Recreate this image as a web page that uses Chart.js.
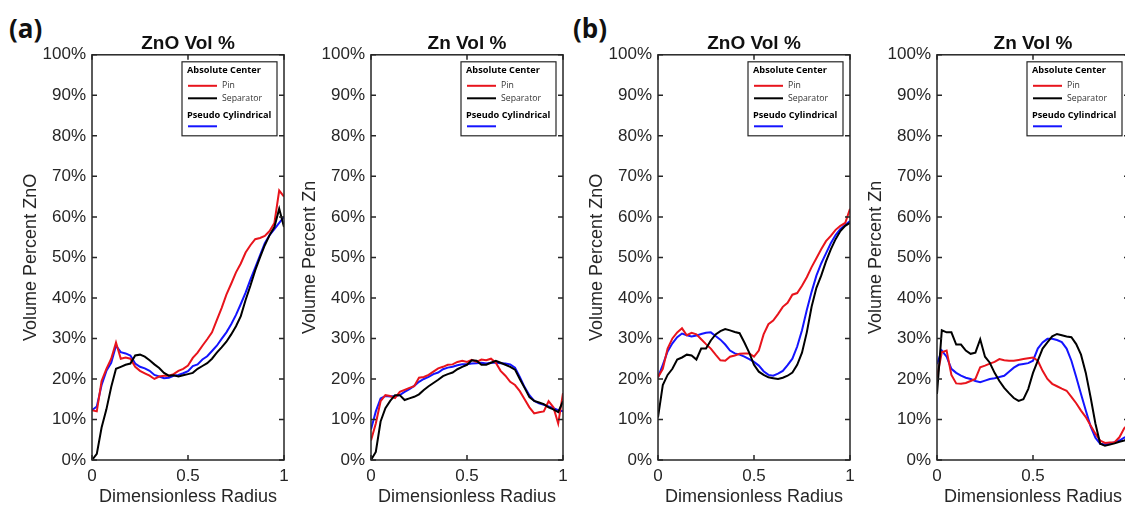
<!DOCTYPE html>
<html>
<head>
<meta charset="utf-8">
<script src="https://cdn.jsdelivr.net/npm/chart.js@4.4.0/dist/chart.umd.min.js"></script>
<style>
  html, body { margin: 0; padding: 0; background: #fff; }
  body { width: 1125px; height: 508px; overflow: hidden; position: relative; }
  canvas.panel { position: absolute; top: 0; }
  .tag { position: absolute; top: 15px; font: bold 26px "Open Sans", sans-serif; line-height: 1; color: #111; }
</style>
</head>
<body>
<div class="tag" style="left:9px">(a)</div>
<div class="tag" style="left:573px">(b)</div>
<canvas id="p0" class="panel" width="300" height="508" style="left:0px"></canvas>
<canvas id="p1" class="panel" width="300" height="508" style="left:279px"></canvas>
<canvas id="p2" class="panel" width="300" height="508" style="left:566px"></canvas>
<canvas id="p3" class="panel" width="300" height="508" style="left:845px"></canvas>
<script>
// dimensionless radius, shared by all four panels
const radius = [0, 0.025, 0.05, 0.075, 0.1, 0.125, 0.15, 0.175, 0.2, 0.225,
  0.25, 0.275, 0.3, 0.325, 0.35, 0.375, 0.4, 0.425, 0.45, 0.475,
  0.5, 0.525, 0.55, 0.575, 0.6, 0.625, 0.65, 0.675, 0.7, 0.725,
  0.75, 0.775, 0.8, 0.825, 0.85, 0.875, 0.9, 0.925, 0.95, 0.975, 1];

const xTicks = [0, 0.5, 1];
const yTicks = [0, 10, 20, 30, 40, 50, 60, 70, 80, 90, 100];
const panelTitles = ['ZnO Vol %', 'Zn Vol %', 'ZnO Vol %', 'Zn Vol %'];
const yTitles = ['Volume Percent ZnO', 'Volume Percent Zn', 'Volume Percent ZnO', 'Volume Percent Zn'];
const xTitle = 'Dimensionless Radius';
const legendHeads = ['Absolute Center', 'Pseudo Cylindrical'];
const seriesNames = ['Pin', 'Separator', ''];

// (a) ZnO
const aZnoPin = [12.3, 12.0, 19.5, 22.5, 25.0, 29.0, 25.0, 25.3, 25.0, 23.0,
  22.0, 21.4, 20.8, 20.0, 20.6, 20.8, 20.8, 21.2, 22.0, 22.5,
  23.3, 25.2, 26.5, 28.2, 29.8, 31.5, 34.5, 37.5, 40.8, 43.5,
  46.3, 48.5, 51.2, 53.0, 54.5, 54.8, 55.3, 56.5, 58.5, 66.5, 65.0];
const aZnoSep = [0, 1.5, 8.0, 12.5, 18.0, 22.5, 23.0, 23.5, 23.8, 25.8,
  26.0, 25.5, 24.6, 23.6, 22.7, 21.5, 20.8, 20.9, 20.6, 20.9,
  21.2, 21.5, 22.5, 23.2, 23.9, 25.0, 26.5, 27.8, 29.2, 31.0,
  33.0, 35.5, 39.5, 43.0, 46.8, 50.0, 53.0, 55.5, 57.5, 62.0, 57.5];
const aZnoPseudo = [12.3, 13.2, 18.5, 22.0, 24.0, 28.2, 26.6, 26.3, 25.8, 23.8,
  23.0, 22.6, 22.0, 21.0, 20.6, 20.2, 20.3, 20.8, 21.0, 21.4,
  21.9, 23.2, 23.6, 24.8, 25.6, 26.9, 28.2, 29.9, 31.5, 33.5,
  35.8, 38.5, 41.3, 44.5, 47.5, 50.5, 53.5, 55.5, 57.0, 58.5, 60.0];

// (a) Zn
const aZnPin = [4.8, 9.0, 14.5, 16.0, 15.8, 15.3, 16.8, 17.3, 17.8, 18.2,
  20.3, 20.5, 21.0, 21.8, 22.6, 23.0, 23.5, 23.6, 24.2, 24.5,
  24.2, 24.7, 24.2, 24.8, 24.6, 25.0, 24.0, 22.0, 20.8, 19.3,
  18.5, 17.0, 15.0, 13.0, 11.5, 11.8, 12.0, 14.5, 13.0, 9.0, 16.5];
const aZnSep = [0, 2.0, 9.5, 12.8, 14.6, 16.0, 16.0, 14.8, 15.2, 15.6,
  16.2, 17.3, 18.2, 19.0, 19.8, 20.7, 21.2, 21.6, 22.4, 23.0,
  23.5, 24.6, 24.5, 23.5, 23.5, 24.0, 24.5, 24.0, 23.5, 23.0,
  22.3, 20.0, 17.8, 15.5, 14.6, 14.2, 13.8, 13.0, 12.5, 11.8, 14.5];
const aZnPseudo = [7.5, 12.0, 15.2, 15.8, 15.7, 15.8, 16.0, 16.8, 17.5, 18.3,
  19.3, 20.0, 20.5, 21.2, 21.6, 22.4, 22.8, 23.0, 23.4, 23.6,
  23.6, 23.8, 23.9, 24.0, 23.8, 24.0, 24.0, 23.9, 23.8, 23.6,
  22.8, 20.5, 18.0, 16.0, 14.6, 14.0, 13.6, 13.2, 12.8, 12.3, 12.0];

// (b) ZnO
const bZnoPin = [20.4, 22.5, 27.5, 30.0, 31.5, 32.5, 30.8, 31.4, 31.0, 29.8,
  28.6, 27.5, 26.0, 24.6, 24.5, 25.5, 25.8, 26.2, 26.3, 26.3,
  25.5, 27.0, 31.0, 33.5, 34.4, 36.0, 37.8, 38.8, 40.8, 41.2,
  43.0, 45.1, 47.6, 49.8, 52.0, 54.0, 55.3, 56.8, 57.8, 58.5, 62.0];
const bZnoSep = [10.5, 18.5, 21.0, 22.5, 24.8, 25.3, 26.0, 25.8, 24.8, 27.5,
  27.5, 29.5, 31.0, 31.8, 32.3, 32.0, 31.6, 31.3, 29.0, 26.5,
  23.5, 21.8, 21.0, 20.4, 20.2, 20.0, 20.3, 20.8, 21.6, 23.5,
  26.5, 31.5, 37.8, 42.5, 45.5, 49.0, 52.0, 54.5, 56.5, 57.8, 58.5];
const bZnoPseudo = [20.4, 23.5, 26.8, 28.8, 30.3, 31.2, 30.8, 30.5, 30.7, 31.1,
  31.4, 31.5, 30.6, 29.7, 28.5, 27.0, 26.3, 26.0, 25.5, 24.9,
  24.2, 23.3, 21.9, 21.0, 20.8, 21.3, 22.0, 23.4, 25.0, 28.0,
  32.0, 37.0, 41.5, 45.5, 48.5, 51.0, 53.5, 55.5, 57.0, 58.0, 59.0];

// (b) Zn
const bZnPin = [20.4, 26.6, 27.0, 21.0, 18.9, 18.8, 19.0, 19.5, 20.0, 22.9,
  23.3, 23.8, 24.2, 24.9, 24.6, 24.5, 24.5, 24.7, 24.9, 25.1,
  25.3, 24.5, 22.0, 20.0, 18.8, 18.2, 17.6, 17.1, 15.6, 14.0,
  12.2, 10.6, 8.5, 6.5, 4.8, 4.2, 4.3, 4.4, 5.6, 7.8, 9.0];
const bZnSep = [16.3, 32.0, 31.5, 31.5, 28.5, 28.5, 27.0, 26.2, 26.5, 29.8,
  25.5, 24.0, 21.5, 19.5, 17.8, 16.5, 15.3, 14.6, 15.0, 17.5,
  21.5, 24.5, 27.5, 29.0, 30.5, 31.1, 30.8, 30.5, 30.3, 28.6,
  26.0, 21.5, 15.5, 9.0, 4.0, 3.5, 3.8, 4.1, 4.5, 4.8, 5.2];
const bZnPseudo = [23.7, 27.0, 25.5, 22.5, 21.5, 20.8, 20.3, 20.0, 19.5, 19.2,
  19.6, 20.0, 20.2, 20.5, 20.8, 21.8, 22.8, 23.5, 23.7, 23.9,
  24.5, 27.5, 29.0, 29.9, 29.9, 29.6, 29.1, 27.5, 24.5, 20.5,
  16.3, 12.2, 8.3, 5.5, 4.0, 3.8, 4.0, 4.4, 4.8, 5.5, 6.0];

const panelSeries = [
  [aZnoPin, aZnoSep, aZnoPseudo],
  [aZnPin, aZnSep, aZnPseudo],
  [bZnoPin, bZnoSep, bZnoPseudo],
  [bZnPin, bZnSep, bZnPseudo]
];

const RED = '#e8141c', BLACK = '#000000', BLUE = '#1414ff', AXIS = '#262626';
const lineColors = [RED, BLACK, BLUE];

// box round the plot, inward ticks on all four sides, and the grouped legend
const matlabBox = {
  id: 'matlabBox',
  afterDatasetsDraw(chart) {
    const { ctx, chartArea: a, scales: { x, y } } = chart;
    ctx.save();
    ctx.strokeStyle = AXIS;
    ctx.lineWidth = 1.5;
    ctx.beginPath();
    xTicks.forEach(v => {
      const px = x.getPixelForValue(v);
      ctx.moveTo(px, a.bottom); ctx.lineTo(px, a.bottom - 5);
      ctx.moveTo(px, a.top); ctx.lineTo(px, a.top + 5);
    });
    yTicks.forEach(v => {
      const py = y.getPixelForValue(v);
      ctx.moveTo(a.left, py); ctx.lineTo(a.left + 5, py);
      ctx.moveTo(a.right, py); ctx.lineTo(a.right - 5, py);
    });
    ctx.stroke();
    ctx.strokeRect(a.left, a.top, a.right - a.left, a.bottom - a.top);
    ctx.restore();
  },
  afterDraw(chart) {
    const { ctx, chartArea: a } = chart;
    const w = 95, h = 74;
    const bx = a.right - 7 - w, by = a.top + 7;
    ctx.save();
    ctx.fillStyle = '#fff';
    ctx.fillRect(bx, by, w, h);
    ctx.strokeStyle = AXIS;
    ctx.lineWidth = 1.2;
    ctx.strokeRect(bx, by, w, h);
    ctx.textBaseline = 'middle';
    ctx.textAlign = 'left';
    ctx.fillStyle = '#000';
    ctx.font = 'bold 9.2px "Open Sans", sans-serif';
    ctx.fillText(legendHeads[0], bx + 5, by + 9);
    ctx.fillText(legendHeads[1], bx + 5, by + 54);
    const rows = [by + 24, by + 36.5, by + 64.5];
    ctx.lineWidth = 2;
    rows.forEach((ry, i) => {
      ctx.strokeStyle = lineColors[i];
      ctx.beginPath();
      ctx.moveTo(bx + 6, ry); ctx.lineTo(bx + 35, ry);
      ctx.stroke();
    });
    ctx.fillStyle = '#333';
    ctx.font = '8.7px "Open Sans", sans-serif';
    ctx.fillText(seriesNames[0], bx + 40, rows[0]);
    ctx.fillText(seriesNames[1], bx + 40, rows[1]);
    ctx.restore();
  }
};

function drawPanel(idx) {
  const series = panelSeries[idx];
  const datasets = series.map((vals, i) => ({
    label: seriesNames[i] || legendHeads[1],
    data: radius.map((r, k) => ({ x: r, y: vals[k] })),
    borderColor: lineColors[i],
    borderWidth: 2,
    pointRadius: 0,
    tension: 0,
    order: i === 1 ? 0 : (i === 0 ? 1 : 2)
  }));

  new Chart(document.getElementById('p' + idx), {
    type: 'line',
    data: { datasets },
    options: {
      responsive: false,
      animation: false,
      layout: { padding: { top: 0, right: 16, bottom: 0, left: 0 } },
      plugins: {
        legend: { display: false },
        tooltip: { enabled: false },
        title: {
          display: true,
          text: panelTitles[idx],
          fullSize: false,
          color: '#111',
          font: { family: 'Liberation Sans, Arial, sans-serif', size: 19, weight: 'bold' },
          padding: { top: 32, bottom: 0 }
        }
      },
      scales: {
        x: {
          type: 'linear',
          min: 0, max: 1,
          afterFit: s => { s.height = 48; },
          afterBuildTicks: s => { s.ticks = xTicks.map(v => ({ value: v })); },
          grid: { display: false, drawTicks: false },
          border: { display: false },
          ticks: {
            padding: 6,
            color: AXIS,
            font: { family: 'Liberation Sans, Arial, sans-serif', size: 17 },
            maxRotation: 0,
            callback: v => String(v)
          },
          title: {
            display: true,
            text: xTitle,
            color: AXIS,
            font: { family: 'Liberation Sans, Arial, sans-serif', size: 18 },
            padding: { top: 0, bottom: 0 }
          }
        },
        y: {
          min: 0, max: 100,
          afterFit: s => { s.width = 92; },
          afterBuildTicks: s => { s.ticks = yTicks.map(v => ({ value: v })); },
          grid: { display: false, drawTicks: false },
          border: { display: false },
          ticks: {
            padding: 6,
            color: AXIS,
            font: { family: 'Liberation Sans, Arial, sans-serif', size: 17 },
            callback: v => v + '%'
          },
          title: {
            display: true,
            text: yTitles[idx],
            color: AXIS,
            font: { family: 'Liberation Sans, Arial, sans-serif', size: 18 },
            padding: { top: 20, bottom: 0 }
          }
        }
      }
    },
    plugins: [matlabBox]
  });
}

[0, 1, 2, 3].forEach(drawPanel);
</script>
</body>
</html>
